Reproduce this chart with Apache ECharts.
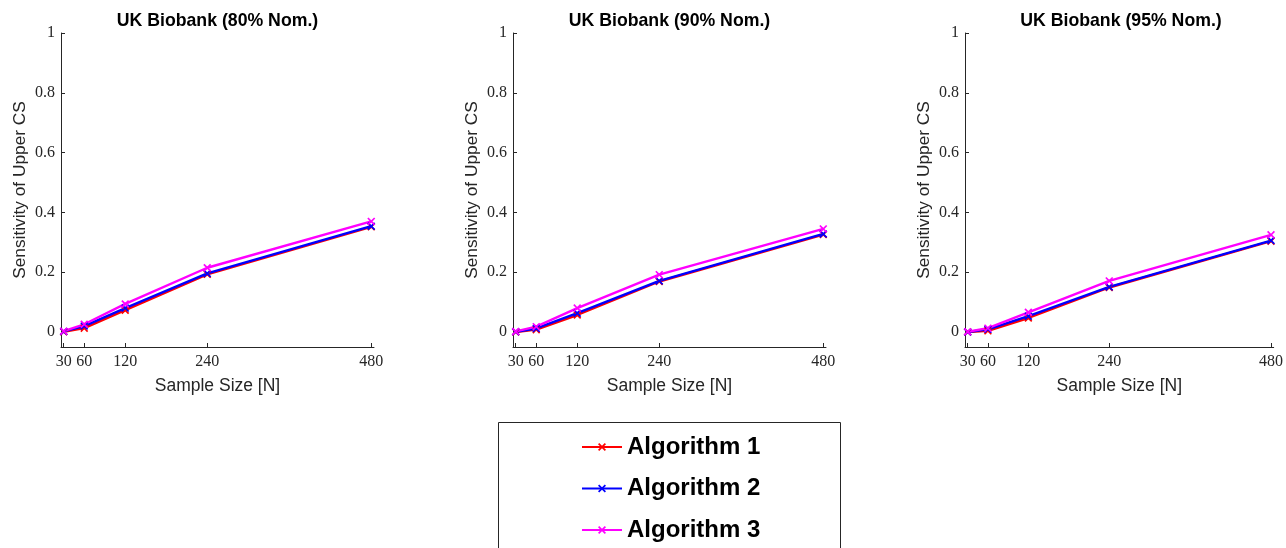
<!DOCTYPE html>
<html>
<head>
<meta charset="utf-8">
<script src="https://cdn.jsdelivr.net/npm/echarts@6/dist/echarts.min.js"></script>
<style>
  html, body { margin: 0; padding: 0; background: #ffffff; }
  #chart { width: 1286px; height: 548px; }
</style>
</head>
<body>
<div id="chart"></div>
<script>
// Sample sizes on the x axis
const sampleSizes = [30, 60, 120, 240, 480];
const xTickValues = [30, 60, 120, 240, 480];
const yTickValues = [0, 0.2, 0.4, 0.6, 0.8, 1];

const panelTitles = ['UK Biobank (80% Nom.)', 'UK Biobank (90% Nom.)', 'UK Biobank (95% Nom.)'];
const algorithmNames = ['Algorithm 1', 'Algorithm 2', 'Algorithm 3'];

// Sensitivity of the upper confidence set, one array per algorithm and nominal level
const alg1_80 = [0.001, 0.013, 0.073, 0.193, 0.352];
const alg2_80 = [0.002, 0.020, 0.080, 0.196, 0.354];
const alg3_80 = [0.003, 0.026, 0.094, 0.215, 0.370];

const alg1_90 = [0.000, 0.008, 0.057, 0.169, 0.326];
const alg2_90 = [0.001, 0.012, 0.063, 0.171, 0.328];
const alg3_90 = [0.002, 0.018, 0.080, 0.192, 0.345];

const alg1_95 = [0.000, 0.004, 0.047, 0.149, 0.304];
const alg2_95 = [0.000, 0.009, 0.053, 0.151, 0.306];
const alg3_95 = [0.001, 0.013, 0.066, 0.171, 0.325];

const panelData = [
  [alg1_80, alg2_80, alg3_80],
  [alg1_90, alg2_90, alg3_90],
  [alg1_95, alg2_95, alg3_95]
];

const colors = ['#ff0000', '#0000ff', '#ff00ff'];
const crossSymbol = 'path://M1.5,0L5,3.5L8.5,0L10,1.5L6.5,5L10,8.5L8.5,10L5,6.5L1.5,10L0,8.5L3.5,5L0,1.5Z';
const axisColor = '#262626';

const gridLefts = [61, 513, 965];
const gridWidths = [313, 313, 312];

const grids = [], xAxes = [], yAxes = [], titles = [], series = [];

panelTitles.forEach((t, p) => {
  grids.push({ left: gridLefts[p], top: 33, width: gridWidths[p], height: 314, containLabel: false });
  titles.push({
    text: t,
    left: gridLefts[p] + gridWidths[p] / 2,
    top: 12.5,
    padding: 0,
    textAlign: 'center',
    textStyle: { fontFamily: 'Liberation Sans', fontWeight: 'bold', fontSize: 17.7, color: '#000' }
  });
  xAxes.push({
    type: 'value', gridIndex: p, min: 26, max: 484,
    name: 'Sample Size [N]', nameLocation: 'middle', nameGap: 30,
    nameTextStyle: { fontFamily: 'Liberation Sans', fontSize: 17.5, color: axisColor },
    axisLine: { show: true, onZero: false, lineStyle: { color: axisColor, width: 1 } },
    axisTick: { show: true, inside: true, length: 4, customValues: xTickValues, lineStyle: { color: axisColor } },
    axisLabel: { customValues: xTickValues, margin: 7, fontFamily: 'Liberation Serif', fontSize: 16, color: axisColor },
    splitLine: { show: false }
  });
  yAxes.push({
    type: 'value', gridIndex: p, min: -0.05, max: 1,
    name: 'Sensitivity of Upper CS', nameLocation: 'middle', nameGap: 32,
    nameTextStyle: { fontFamily: 'Liberation Sans', fontSize: 17.3, color: axisColor },
    axisLine: { show: true, lineStyle: { color: axisColor, width: 1 } },
    axisTick: { show: true, inside: true, length: 4, customValues: yTickValues, lineStyle: { color: axisColor } },
    axisLabel: { customValues: yTickValues, margin: 6, fontFamily: 'Liberation Serif', fontSize: 16, color: axisColor },
    splitLine: { show: false }
  });
  panelData[p].forEach((vals, a) => {
    series.push({
      type: 'line',
      name: algorithmNames[a],
      xAxisIndex: p, yAxisIndex: p,
      data: sampleSizes.map((n, i) => [n, vals[i]]),
      symbol: crossSymbol, symbolSize: 8, showAllSymbol: true,
      lineStyle: { color: colors[a], width: 2.4 },
      itemStyle: { color: colors[a] },
      emphasis: { disabled: true },
      animation: false
    });
  });
});

const chart = echarts.init(document.getElementById('chart'), null, { renderer: 'canvas' });
chart.setOption({
  backgroundColor: '#ffffff',
  animation: false,
  title: titles,
  grid: grids,
  xAxis: xAxes,
  yAxis: yAxes,
  graphic: [{
    type: 'rect', z: 0,
    shape: { x: 498.5, y: 422.5, width: 342, height: 200 },
    style: { fill: '#ffffff', stroke: axisColor, lineWidth: 1 }
  }],
  legend: {
    data: algorithmNames,
    orient: 'vertical',
    left: 581, top: 433,
    padding: 0,
    itemWidth: 40, itemHeight: 10, itemGap: 13.5,
    textStyle: { fontFamily: 'Liberation Sans', fontWeight: 'bold', fontSize: 24, color: '#000', lineHeight: 28 },
    z: 10
  },
  series: series
});
</script>
</body>
</html>
